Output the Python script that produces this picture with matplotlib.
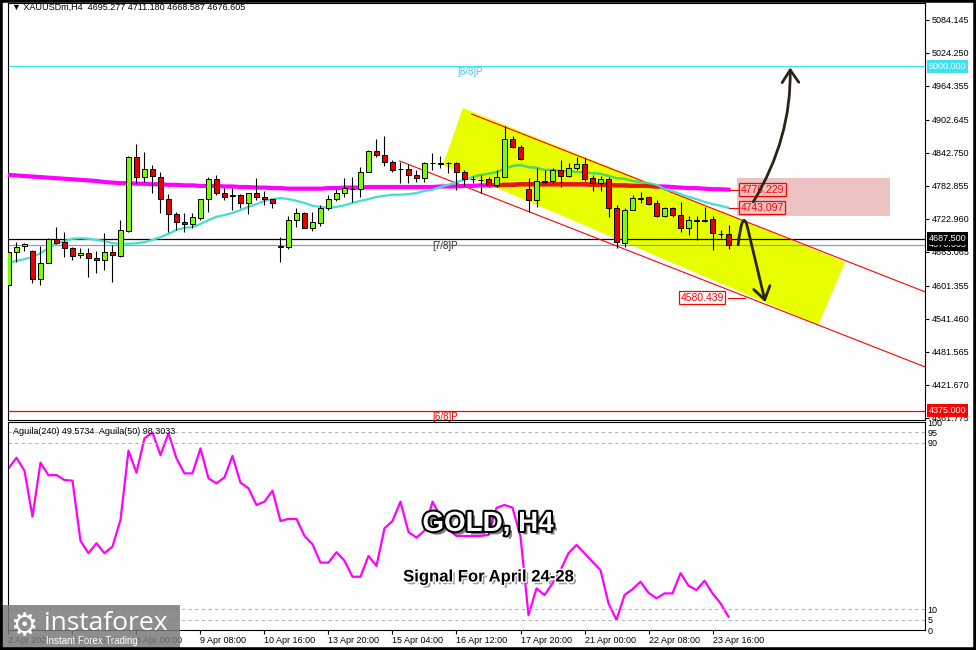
import matplotlib
matplotlib.use('Agg')
import matplotlib.pyplot as plt
import matplotlib.patheffects as pe
from matplotlib.patches import Polygon, Rectangle, FancyArrowPatch
from matplotlib.path import Path
import numpy as np

plt.rcParams['font.family'] = ['Liberation Sans', 'DejaVu Sans']

# XAUUSDm H4 candles
opens = [4603, 4663, 4674, 4665, 4614, 4643, 4687, 4681, 4670, 4658,
         4661, 4652, 4649, 4663, 4656, 4701, 4836, 4799, 4814, 4799,
         4759, 4732, 4718, 4714, 4725, 4759, 4796, 4770, 4767, 4767,
         4752, 4770, 4763, 4759, 4672, 4672, 4721, 4734, 4707, 4716,
         4743, 4759, 4770, 4777, 4777, 4808, 4846, 4839, 4826, 4814,
         4814, 4803, 4797, 4825, 4825, 4825, 4825, 4808, 4796, 4794,
         4796, 4785, 4799, 4868, 4854, 4777, 4757, 4792, 4792, 4812,
         4801, 4815, 4823, 4797, 4788, 4796, 4743, 4679, 4739, 4761,
         4763, 4752, 4728, 4743, 4730, 4707, 4721, 4721, 4723, 4696,
         4695.277]
highs = [4667, 4681, 4680, 4667, 4674, 4688, 4708, 4699, 4672, 4670,
         4670, 4665, 4698, 4676, 4721, 4837, 4859, 4845, 4821, 4808,
         4768, 4736, 4734, 4734, 4759, 4799, 4803, 4779, 4779, 4768,
         4770, 4797, 4774, 4759, 4690, 4728, 4743, 4736, 4736, 4748,
         4767, 4777, 4797, 4799, 4817, 4848, 4868, 4874, 4830, 4826,
         4823, 4812, 4826, 4843, 4837, 4826, 4826, 4812, 4801, 4803,
         4799, 4812, 4892, 4874, 4857, 4797, 4815, 4812, 4815, 4830,
         4825, 4835, 4834, 4803, 4801, 4799, 4748, 4743, 4766, 4772,
         4765, 4757, 4745, 4745, 4754, 4728, 4728, 4745, 4728, 4703,
         4711.180]
lows = [4581, 4645, 4665, 4607, 4603, 4643, 4678, 4654, 4649, 4652,
        4618, 4625, 4630, 4609, 4654, 4699, 4788, 4790, 4770, 4734,
        4699, 4703, 4699, 4707, 4721, 4736, 4767, 4757, 4739, 4743,
        4732, 4757, 4748, 4743, 4645, 4668, 4708, 4707, 4701, 4710,
        4739, 4756, 4763, 4754, 4763, 4808, 4835, 4819, 4808, 4788,
        4788, 4790, 4790, 4812, 4815, 4806, 4776, 4783, 4788, 4770,
        4781, 4781, 4799, 4852, 4830, 4736, 4745, 4788, 4788, 4781,
        4799, 4812, 4792, 4774, 4774, 4727, 4670, 4672, 4739, 4752,
        4748, 4727, 4727, 4727, 4699, 4694, 4685, 4718, 4667, 4688,
        4668.587]
closes = [4663, 4672, 4678, 4614, 4643, 4687, 4679, 4670, 4656, 4661,
          4652, 4649, 4663, 4658, 4703, 4836, 4799, 4814, 4801, 4759,
          4732, 4718, 4714, 4727, 4759, 4796, 4770, 4763, 4765, 4752,
          4770, 4763, 4759, 4752, 4674, 4721, 4734, 4707, 4718, 4743,
          4759, 4770, 4779, 4778, 4808, 4846, 4839, 4826, 4812, 4813,
          4803, 4797, 4825, 4824, 4823, 4824, 4808, 4796, 4795, 4793,
          4785, 4799, 4868, 4854, 4832, 4757, 4792, 4791, 4812, 4801,
          4815, 4823, 4796, 4788, 4796, 4743, 4681, 4739, 4761, 4760,
          4750, 4728, 4743, 4730, 4707, 4721, 4720, 4720, 4698, 4695,
          4676.605]

# moving averages
ma_slow = [4803, 4802, 4801, 4800, 4799, 4798, 4797, 4796, 4795, 4794,
           4793, 4792, 4790, 4789, 4788, 4788, 4787, 4787, 4786, 4786,
           4785, 4785, 4784, 4784, 4783, 4783, 4783, 4782, 4782, 4781,
           4781, 4780, 4780, 4779, 4779, 4778, 4778, 4778, 4778, 4778,
           4779, 4779, 4780, 4780, 4780, 4781, 4781, 4781, 4781, 4781,
           4781, 4781, 4781, 4781, 4782, 4782, 4782, 4783, 4783, 4784,
           4784, 4784, 4785, 4785, 4786, 4786, 4786, 4786, 4786, 4786,
           4786, 4786, 4786, 4785, 4785, 4785, 4784, 4784, 4783, 4783,
           4783, 4782, 4782, 4781, 4780, 4779, 4779, 4778, 4777, 4777,
           4776.229]
ma_fast = [4643, 4647, 4650, 4654, 4661, 4670, 4679, 4683, 4687, 4688,
           4687, 4685, 4683, 4679, 4678, 4678, 4679, 4681, 4685, 4690,
           4696, 4703, 4707, 4708, 4714, 4721, 4727, 4730, 4734, 4739,
           4745, 4750, 4756, 4759, 4761, 4759, 4756, 4752, 4747, 4745,
           4743, 4745, 4748, 4752, 4756, 4759, 4763, 4765, 4767, 4767,
           4768, 4770, 4774, 4776, 4781, 4785, 4790, 4794, 4799, 4803,
           4805, 4808, 4814, 4819, 4821, 4817, 4816, 4812, 4812, 4810,
           4810, 4808, 4808, 4806, 4805, 4801, 4797, 4796, 4792, 4790,
           4788, 4785, 4777, 4774, 4768, 4763, 4759, 4754, 4750, 4747,
           4743.097]

# Aguila oscillator
aguila = [77.7, 82.8, 76.6, 54.5, 80.4, 74.4, 74.5, 72.1, 71.8, 42.9,
          36.9, 41.7, 36.9, 40.1, 52.9, 86.2, 75.6, 92.2, 94.9, 84.1,
          94.6, 82.5, 75.3, 75.3, 87.3, 72.9, 70.5, 73.4, 83.7, 70.8,
          68.1, 60.1, 61.7, 67.0, 52.4, 53.4, 53.4, 45.2, 41.2, 32.4,
          32.4, 37.4, 33.3, 25.6, 25.6, 35.6, 30.8, 48.9, 52.4, 61.7,
          47.1, 44.4, 47.8, 61.7, 54.5, 48.1, 45.2, 45.2, 45.2, 45.2,
          45.7, 58.7, 60.1, 58.8, 44.9, 7.2, 20.0, 16.8, 22.4, 28.8,
          36.9, 40.9, 36.9, 32.8, 28.8, 12.8, 4.8, 16.8, 19.6, 23.2,
          17.9, 15.2, 17.6, 17.6, 27.3, 21.3, 19.2, 23.7, 17.6, 12.8,
          6.4]

date_ticks = [0, 8, 16, 24, 32, 40, 48, 56, 64, 72, 80, 88]
date_labels = ['2 Apr 2026', '6 Apr 16:00', '8 Apr 00:00', '9 Apr 08:00',
               '10 Apr 16:00', '13 Apr 20:00', '15 Apr 04:00', '16 Apr 12:00',
               '17 Apr 20:00', '21 Apr 00:00', '22 Apr 08:00', '23 Apr 16:00']
price_ticks = [5084.145, 5024.250, 4964.355, 4902.645, 4842.750, 4782.855,
               4722.960, 4663.065, 4601.355, 4541.460, 4481.565, 4421.670,
               4361.775]
osc_ticks = [100, 95, 90, 10, 5, 0]
osc_levels = [95, 90, 10, 5]

murrey = [5000.0, 4687.5, 4375.0]
murrey_names = ['[8/8]P', '[7/8]P', '[6/8]P']
bid = 4676.605

# drawn objects (bar index, price)
channel = [(56.8, 4924.4), (104.6, 4644.9), (101.2, 4530.6), (54.3, 4821.0)]
upper_line = [(57.9, 4913.5), (114.6, 4590.5)]
lower_line = [(48.9, 4828.2), (114.6, 4454.3)]
zone_x = [91.1, 110.2]
zone_y = [4728, 4797]
targets = [4776.229, 4743.097, 4580.439]
up_arrow = [(93.1, 4754), (97.9, 4870), (97.7, 4998)]
down_arrow = [(91.2, 4676), (91.7, 4740), (92.3, 4712), (94.6, 4572)]

W, H = 976, 650


def box(l, t, r, b):
    return [l / W, 1 - b / H, (r - l) / W, (b - t) / H]


fig = plt.figure(figsize=(W / 100, H / 100), dpi=100)
ax = fig.add_axes(box(8, 3, 925, 420))
ax2 = fig.add_axes(box(8, 422, 925, 630), sharex=ax)

x = np.arange(len(opens))
o = np.array(opens)
c = np.array(closes)

# channel
poly = Polygon(channel, closed=True, fc='#e8ff00', ec='none', zorder=1)
ax.add_patch(poly)
ax.plot(*zip(*upper_line), color='red', lw=0.8, zorder=2.5)
ax.plot(*zip(*lower_line), color='red', lw=0.8, zorder=2.5)

ax.add_patch(Rectangle((zone_x[0], zone_y[0]), zone_x[1] - zone_x[0],
                       zone_y[1] - zone_y[0], fc='#ecc2c2', ec='none', zorder=1.5))

# levels
ax.axhline(murrey[0], color='#40e0f0', lw=0.9, zorder=2)
ax.axhline(murrey[1], color='black', lw=0.9, zorder=2)
ax.axhline(murrey[2], color='red', lw=0.9, zorder=2)
ax.axhline(bid, color='#8fa0b4', lw=0.9, zorder=2)
ax.text(57.7, murrey[0] - 2, murrey_names[0], color='#40c8f0', fontsize=7, ha='center', va='top')
ax.text(54.6, murrey[1] - 4, murrey_names[1], color='#333333', fontsize=7, ha='center', va='top')
ax.text(54.6, murrey[2] - 2, murrey_names[2], color='red', fontsize=7, ha='center', va='top')

# moving averages
ax.plot(x, ma_slow, color='#ff00ff', lw=3, zorder=3)
ln, = ax.plot(x, ma_slow, color='#e41b00', lw=3, zorder=3.1)
ln.set_clip_path(poly)
ax.plot(x, ma_fast, color='#40e0d0', lw=1.6, zorder=3)
ln, = ax.plot(x, ma_fast, color='#5cd846', lw=1.6, zorder=3.1)
ln.set_clip_path(poly)

# candles
up = c >= o
ax.vlines(x, lows, highs, color='black', lw=0.8, zorder=4)
ax.bar(x, np.maximum(np.abs(c - o), 0.8), 0.6, bottom=np.minimum(o, c),
       color=np.where(up, '#7cfc00', '#e80000'), edgecolor='black', lw=0.7, zorder=5)

# target labels
for val, xl, x0, x1 in zip(targets, [91.5, 91.5, 84.0], [90, 90, 89.9], [91.3, 91.3, 92.1]):
    ax.plot([x0, x1], [val, val], color='red', lw=0.8, zorder=6)
    ax.text(xl, val, f'{val:.3f}', color='red', fontsize=7.5, ha='left', va='center',
            bbox=dict(boxstyle='square,pad=0.15', fc='none', ec='red', lw=0.9), zorder=8)

# arrows
arrow_kw = dict(arrowstyle='->,head_length=0.45,head_width=0.3', mutation_scale=20,
                lw=2, color='#2b2416', zorder=9)
ax.add_patch(FancyArrowPatch(path=Path(up_arrow, [Path.MOVETO, Path.CURVE3, Path.CURVE3]), **arrow_kw))
ax.add_patch(FancyArrowPatch(path=Path(down_arrow, [Path.MOVETO, Path.CURVE3, Path.CURVE3, Path.LINETO]), **arrow_kw))

ax.set_xlim(-0.06, 114.56)
ax.set_ylim(4358.1, 5115.0)
ax.yaxis.tick_right()
ax.set_yticks(price_ticks)
ax.set_yticklabels([f'{v:.3f}' for v in price_ticks])
ax.tick_params(axis='y', labelsize=6.5, length=3, pad=2, width=0.8)
ax.tick_params(axis='x', bottom=False, labelbottom=False)


def rlabel(y, text, fc):
    ax.text(1.004, y, text, transform=ax.get_yaxis_transform(), ha='left', va='center',
            fontsize=6.5, color='white', clip_on=False, zorder=10,
            bbox=dict(boxstyle='square,pad=0.2', fc=fc, ec='none'))


rlabel(murrey[0], '5000.000', '#40e0f0')
rlabel(bid, f'{bid:.3f}', 'black')
rlabel(murrey[1], '4687.500', 'black')
rlabel(murrey[2], '4375.000', '#ff0000')

# oscillator
ax2.plot(x, aguila, color='#ff00ff', lw=1.6)
for lv in osc_levels:
    ax2.axhline(lv, color='#b4b4b4', lw=0.8, ls=(0, (3, 3)))
ax2.set_ylim(0, 100)
ax2.yaxis.tick_right()
ax2.set_yticks(osc_ticks)
ax2.set_yticklabels([str(v) for v in osc_ticks])
ax2.tick_params(axis='y', labelsize=6.5, length=0, pad=2)
ax2.set_xticks(date_ticks)
ax2.set_xticklabels(date_labels, ha='left')
ax2.tick_params(axis='x', labelsize=6.5, length=3, pad=1, width=0.8)
ax2.text(0.005, 0.975, 'Aguila(240) 49.5734  Aguila(50) 98.3033', transform=ax2.transAxes,
         fontsize=6.5, ha='left', va='top')

for a in (ax, ax2):
    for s in a.spines.values():
        s.set_linewidth(0.8)

fig.text(12 / W, 1 - 7 / H, '\u25bc XAUUSDm,H4  4695.277 4711.180 4668.587 4676.605',
         fontsize=6.5, ha='left', va='center')

# title texts
fig.text(488 / W, 1 - 524 / H, 'GOLD, H4', ha='center', va='center', fontsize=20,
         fontweight='bold', color='white', zorder=20,
         path_effects=[pe.SimplePatchShadow(offset=(2.5, -2.5), shadow_rgbFace='black', alpha=0.5),
                       pe.Stroke(linewidth=3, foreground='black'), pe.Normal()])
fig.text(488 / W, 1 - 577 / H, 'Signal For April 24-28', ha='center', va='center', fontsize=12,
         fontweight='bold', color='black', zorder=20,
         path_effects=[pe.SimplePatchShadow(offset=(2, -2), shadow_rgbFace='#777777', alpha=0.7),
                       pe.Stroke(linewidth=2, foreground='white'), pe.Normal()])

# logo
fig.add_artist(Rectangle((0, 2 / H), 180 / W, 43 / H, transform=fig.transFigure,
                         fc='#7a7a7a', ec='none', alpha=0.85, zorder=15))
fig.text(24 / W, 1 - 627 / H, '\u2699', fontsize=22, color='white', ha='center', va='center',
         family='DejaVu Sans', zorder=16)
fig.text(44 / W, 1 - 624 / H, 'instaforex', fontsize=19, color='white', ha='left', va='center',
         family='Open Sans', zorder=16)
fig.text(46 / W, 1 - 641 / H, 'Instant Forex Trading', fontsize=7, color='white', ha='left',
         va='center', zorder=16)

fig.add_artist(Rectangle((0, 0), 1, 1, transform=fig.transFigure, fill=False, ec='black', lw=4, zorder=30))

fig.savefig('out.png', dpi=100)
